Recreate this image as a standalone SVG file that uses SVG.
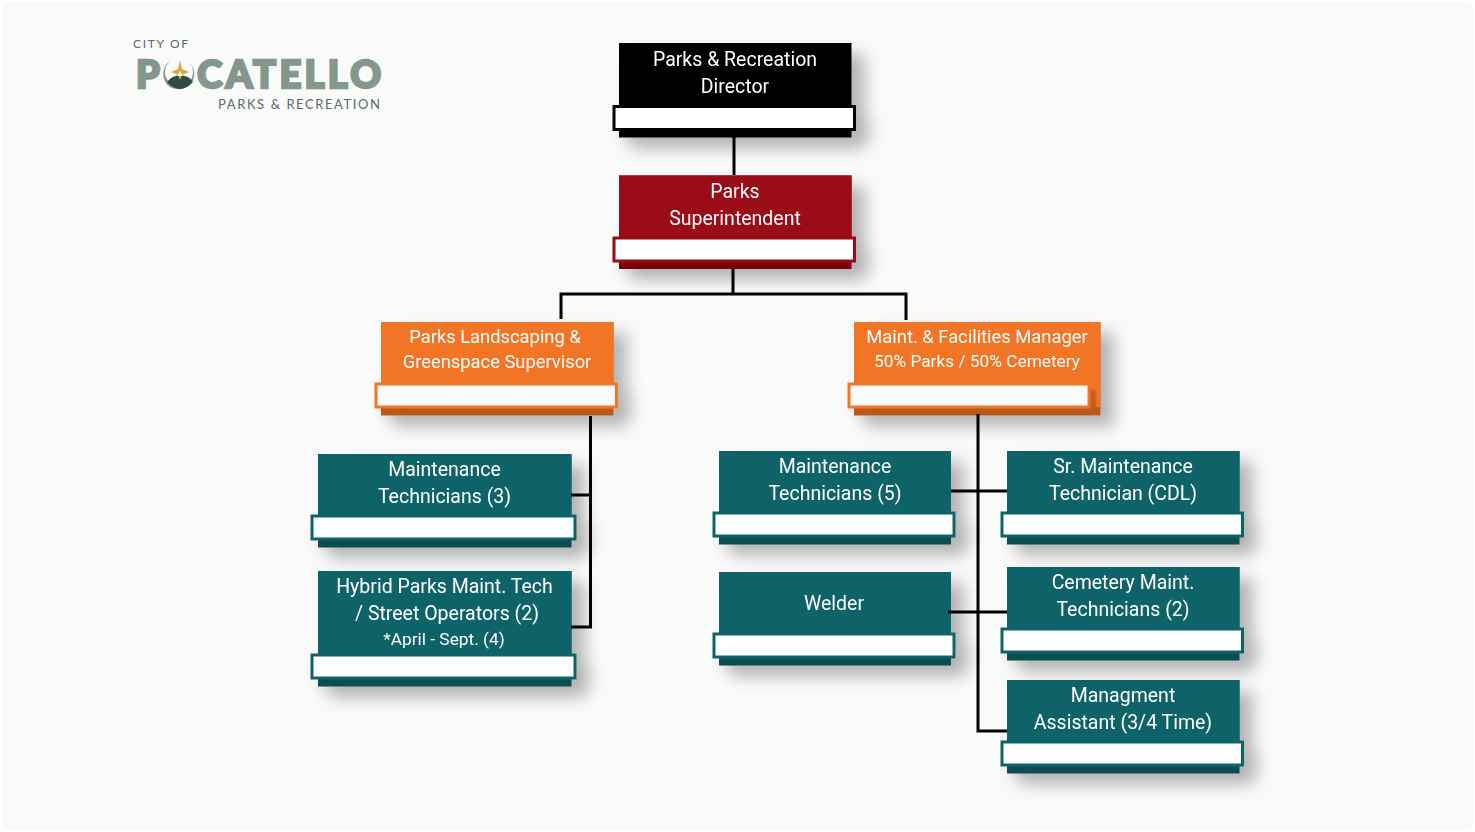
<svg xmlns="http://www.w3.org/2000/svg" width="1475" height="832" viewBox="0 0 1475 832">
<style>
text{font-family:Roboto,"Liberation Sans",sans-serif;font-size:19.500px;fill:#fff;text-anchor:middle}
.s{font-size:17.300px}
.o text{font-size:18.350px}
.o text.s{font-size:17.300px}
.bar{fill:#fff;stroke-width:3}
.box{filter:url(#sh)}
.k .m,.k .l{fill:#000}.k .bar{stroke:#000}
.r .m{fill:#9b0712}.r .l{fill:#77050e}.r .bar{stroke:#9b0712}
.o .m{fill:#f27428}.o .l{fill:#b85a1e}.o .bar{stroke:#f27428;fill:#fbfbfb}
.t .m{fill:#106468}.t .l{fill:#0c4d50}.t .bar{stroke:#106468}
.c{fill:none;stroke:#000;stroke-width:3}
.lg{font-family:Lato,"Liberation Sans",sans-serif;font-size:13px;fill:#566c66;text-anchor:start}
</style>
<defs>
<filter id="sh" x="-20%" y="-25%" width="150%" height="170%"><feDropShadow dx="13" dy="11" stdDeviation="8" flood-color="#000" flood-opacity=".28"/></filter>
<filter id="b"><feGaussianBlur stdDeviation="1.500"/></filter>
</defs>
<rect width="1475" height="832" fill="#fff"/>
<rect x="2" y="2" width="1471" height="828" rx="4" fill="#fafafa"/>

<g id="logo">
<text class="lg" x="133" y="47.500" textLength="55" style="font-size:12px">CITY OF</text>
<text x="136" y="87.500" textLength="245" lengthAdjust="spacing" style="font-family:Lato,'Liberation Sans',sans-serif;font-weight:900;font-size:38px;fill:#83978a;text-anchor:start;stroke:#83978a;stroke-width:2.500">POCATELLO</text>
<circle cx="179" cy="72" r="14" fill="#fafafa"/>
<path d="M167 82 Q172 76 176 76 L180 73 L184 76 Q189 76 193 82 Q186 89 180 89 Q173 89 167 82Z" fill="#2f4a45"/>
<polygon points="180,60 182,69 189,72 182,75 180,80 178,75 171,72 178,69" fill="#e3a83d"/>
<polygon points="180,71 183,76 177,76" fill="#fff"/>
<text class="lg" x="218" y="109" textLength="162">PARKS &amp; RECREATION</text>
</g>

<g id="director" class="box k"><rect class="m" x="619" y="43" width="232.500" height="94.500"/><rect class="bar" x="614" y="106.500" width="240.500" height="23"/><text x="735" y="66">Parks &amp; Recreation</text><text x="735" y="93">Director</text></g>

<g id="superintendent" class="box r"><rect class="l" x="619" y="175.500" width="232.500" height="93.500"/><rect class="m" x="619" y="175.500" width="232.500" height="70"/><rect class="bar" x="614" y="238" width="240.500" height="23"/><text x="735" y="198">Parks</text><text x="735" y="225">Superintendent</text></g>

<g id="landscaping" class="box o"><rect class="l" x="381" y="322" width="232.500" height="93.500"/><rect class="m" x="381" y="322" width="232.500" height="70"/><rect class="bar" x="376" y="384" width="240.500" height="23"/><text x="495" y="343">Parks Landscaping &amp;</text><text x="497" y="368">Greenspace Supervisor</text></g>

<g id="facilities" class="box o"><rect class="l" x="854" y="322" width="246.500" height="93.500"/><rect class="m" x="854" y="322" width="246.500" height="85"/><rect x="1089" y="390" width="7" height="20" fill="#b85a1e" opacity=".85" filter="url(#b)"/><rect class="bar" x="849" y="384" width="240" height="23"/><text x="977" y="343">Maint. &amp; Facilities Manager</text><text class="s" x="977" y="367">50% Parks / 50% Cemetery</text></g>

<g id="tech3" class="box t"><rect class="l" x="318" y="454" width="253.500" height="93.500"/><rect class="m" x="318" y="454" width="253.500" height="70"/><rect class="bar" x="312" y="516" width="263" height="23"/><text x="444.500" y="476">Maintenance</text><text x="444.500" y="503">Technicians (3)</text></g>

<g id="hybrid" class="box t"><rect class="l" x="318" y="571" width="253.500" height="115.500"/><rect class="m" x="318" y="571" width="253.500" height="92"/><rect class="bar" x="312" y="655" width="263" height="23"/><text x="444.500" y="593">Hybrid Parks Maint. Tech</text><text x="447" y="620">/ Street Operators (2)</text><text class="s" x="444" y="645">*April - Sept. (4)</text></g>

<g id="tech5" class="box t"><rect class="l" x="719" y="451" width="232" height="93.500"/><rect class="m" x="719" y="451" width="232" height="70"/><rect class="bar" x="714" y="513" width="240" height="23"/><text x="835" y="473">Maintenance</text><text x="835" y="500">Technicians (5)</text></g>

<g id="sr" class="box t"><rect class="l" x="1007" y="451" width="232.500" height="93.500"/><rect class="m" x="1007" y="451" width="232.500" height="70"/><rect class="bar" x="1002" y="513" width="240.500" height="23"/><text x="1123" y="473">Sr. Maintenance</text><text x="1123" y="500">Technician (CDL)</text></g>

<g id="welder" class="box t"><rect class="l" x="719" y="572" width="232" height="93.500"/><rect class="m" x="719" y="572" width="232" height="70"/><rect class="bar" x="714" y="634" width="240" height="23"/><text x="834" y="610">Welder</text></g>

<g id="cemetery" class="box t"><rect class="l" x="1007" y="567" width="232.500" height="93.500"/><rect class="m" x="1007" y="567" width="232.500" height="70"/><rect class="bar" x="1002" y="629" width="240.500" height="23"/><text x="1123" y="589">Cemetery Maint.</text><text x="1123" y="616">Technicians (2)</text></g>

<g id="assistant" class="box t"><rect class="l" x="1007" y="680" width="232.500" height="93.500"/><rect class="m" x="1007" y="680" width="232.500" height="70"/><rect class="bar" x="1002" y="742" width="240.500" height="23"/><text x="1123" y="702">Managment</text><text x="1123" y="729">Assistant (3/4 Time)</text></g>

<g id="connectors">
<path class="c" d="M734 137V175M733 269V294M561 319V294H906V320"/>
<path class="c" d="M590.500 416V627H571M571 495H590.500"/>
<path class="c" d="M978 414V731H1007M951 491H1007M948 612H1007"/>
</g>
</svg>
